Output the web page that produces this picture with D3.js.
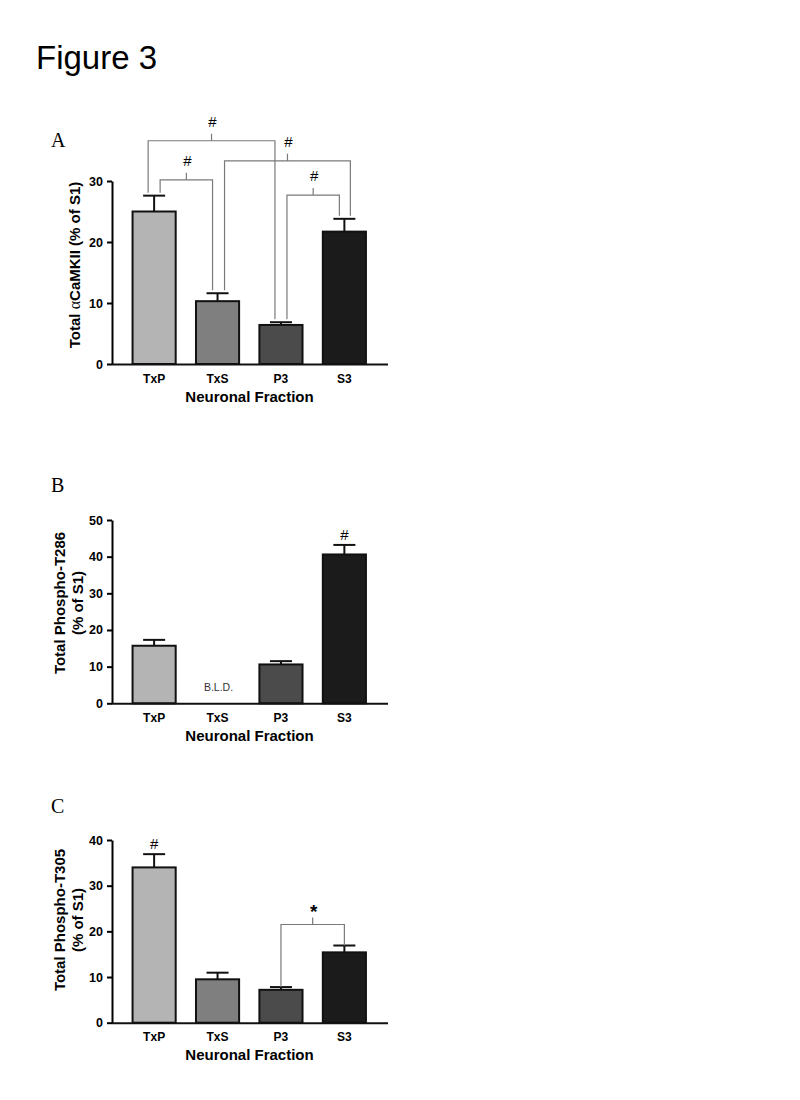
<!DOCTYPE html>
<html>
<head>
<meta charset="utf-8">
<script src="https://cdn.jsdelivr.net/npm/d3@7"></script>
<style>
  body { margin: 0; background: #fff; }
  svg { display: block; }
</style>
</head>
<body>
<script>
// categories and colours
var fractions = ["TxP", "TxS", "P3", "S3"];
var barColors = ["#b4b4b4", "#7f7f7f", "#4b4b4b", "#1b1b1b"];

// A - total alpha CaMKII
var totalMean = [25.0, 10.3, 6.4, 21.7];
var totalErr  = [2.6, 1.3, 0.45, 2.1];
var totalTicks = [0, 10, 20, 30];
var totalPairs  = [["TxP", "P3"], ["TxP", "TxS"], ["TxS", "S3"], ["P3", "S3"]];
var totalLevels = [36.6, 30.2, 33.3, 27.7];
var totalMarks  = ["#", "#", "#", "#"];

// B - phospho T286 (TxS below limit of detection)
var t286Mean = [15.7, 0, 10.6, 40.6];
var t286Err  = [1.6, 0, 0.9, 2.6];
var t286Ticks = [0, 10, 20, 30, 40, 50];
var t286Marks = ["", "", "", "#"];

// C - phospho T305
var t305Mean = [34.0, 9.5, 7.2, 15.4];
var t305Err  = [2.9, 1.45, 0.6, 1.5];
var t305Ticks = [0, 10, 20, 30, 40];
var t305Marks = ["#", "", "", ""];
var t305Pairs  = [["P3", "S3"]];
var t305Levels = [21.5];
var t305PairMarks = ["*"];

var W = 800, H = 1100;
var svg = d3.select("body").append("svg")
  .attr("width", W)
  .attr("height", H)
  .style("font-family", "'Liberation Sans', Arial, sans-serif");

svg.append("text")
  .attr("x", 36)
  .attr("y", 69)
  .style("font-size", "33px")
  .text("Figure 3");

var x = d3.scaleBand()
  .domain(fractions)
  .range([111, 387.5])
  .paddingInner(0.32)
  .paddingOuter(0.34);

var color = d3.scaleOrdinal().domain(fractions).range(barColors);

function drawPanel(p) {
  var y = d3.scaleLinear().domain([0, d3.max(p.ticks)]).range([p.y0, p.y1]);
  var g = svg.append("g");

  // panel letter
  g.append("text")
    .attr("x", 51)
    .attr("y", p.letterY)
    .style("font-family", "'Liberation Serif', 'Times New Roman', serif")
    .style("font-size", "20px")
    .text(p.letter);

  // bars
  g.selectAll("rect.bar")
    .data(p.mean)
    .enter()
    .append("rect")
    .attr("class", "bar")
    .attr("x", (d, i) => x(fractions[i]))
    .attr("y", d => y(d))
    .attr("width", x.bandwidth())
    .attr("height", d => y(0) - y(d))
    .attr("fill", (d, i) => color(fractions[i]))
    .attr("stroke", "#111")
    .attr("stroke-width", 2)
    .style("display", d => d > 0 ? null : "none");

  // error bars (upper only)
  var eb = g.selectAll("g.err")
    .data(p.mean)
    .enter()
    .append("g")
    .attr("class", "err")
    .style("display", (d, i) => p.err[i] > 0 ? null : "none");
  eb.append("line")
    .attr("x1", (d, i) => x(fractions[i]) + x.bandwidth() / 2)
    .attr("x2", (d, i) => x(fractions[i]) + x.bandwidth() / 2)
    .attr("y1", d => y(d))
    .attr("y2", (d, i) => y(d + p.err[i]))
    .attr("stroke", "#111")
    .attr("stroke-width", 2);
  eb.append("line")
    .attr("x1", (d, i) => x(fractions[i]) + x.bandwidth() / 2 - 11)
    .attr("x2", (d, i) => x(fractions[i]) + x.bandwidth() / 2 + 11)
    .attr("y1", (d, i) => y(d + p.err[i]))
    .attr("y2", (d, i) => y(d + p.err[i]))
    .attr("stroke", "#111")
    .attr("stroke-width", 2);

  // marks above single bars
  g.selectAll("text.mark")
    .data(p.marks)
    .enter()
    .append("text")
    .attr("class", "mark")
    .attr("x", (d, i) => x(fractions[i]) + x.bandwidth() / 2)
    .attr("y", (d, i) => y(p.mean[i] + p.err[i]) - 5)
    .attr("text-anchor", "middle")
    .style("font-size", "15px")
    .text(d => d);

  // y axis
  var ya = g.append("g")
    .attr("transform", "translate(" + p.axisX + ",0)")
    .call(d3.axisLeft(y).tickValues(p.ticks).tickSize(5).tickSizeOuter(0).tickPadding(4));
  ya.select(".domain").attr("stroke-width", 2);
  ya.selectAll(".tick line").attr("stroke-width", 2);
  ya.selectAll(".tick text")
    .attr("font-family", "'Liberation Sans', Arial, sans-serif")
    .attr("font-size", "12.5px")
    .attr("font-weight", "bold");

  // x axis
  var xa = g.append("g")
    .attr("transform", "translate(0," + p.y0 + ")")
    .call(d3.axisBottom(x).tickSize(0).tickPadding(10));
  xa.select(".domain").remove();
  xa.selectAll(".tick text")
    .attr("font-family", "'Liberation Sans', Arial, sans-serif")
    .attr("font-size", "12px")
    .attr("font-weight", "bold");
  g.append("line")
    .attr("x1", p.axisX)
    .attr("x2", 388)
    .attr("y1", y(0) + 0.5)
    .attr("y2", y(0) + 0.5)
    .attr("stroke", "#111")
    .attr("stroke-width", 2);

  g.append("text")
    .attr("x", 249.5)
    .attr("y", p.y0 + 37.5)
    .attr("text-anchor", "middle")
    .style("font-size", "15px")
    .style("font-weight", "bold")
    .text("Neuronal Fraction");

  // y label
  p.ylab(g);

  // brackets
  (p.pairs || []).forEach(function (pair, k) {
    var ia = fractions.indexOf(pair[0]), ib = fractions.indexOf(pair[1]);
    var xa1 = x(pair[0]) + x.bandwidth() / 2 + p.nudge[k][0];
    var xb1 = x(pair[1]) + x.bandwidth() / 2 + p.nudge[k][1];
    var ly = y(p.levels[k]);
    var ya1 = y(p.mean[ia] + p.err[ia]) - p.gap;
    var yb1 = y(p.mean[ib] + p.err[ib]) - p.gap;
    var path = d3.path();
    path.moveTo(xa1, ya1);
    path.lineTo(xa1, ly);
    path.lineTo(xb1, ly);
    path.lineTo(xb1, yb1);
    var mid = (xa1 + xb1) / 2;
    path.moveTo(mid, ly);
    path.lineTo(mid, ly - 7);
    g.append("path")
      .attr("d", path.toString())
      .attr("fill", "none")
      .attr("stroke", "#7a7a7a")
      .attr("stroke-width", 1.2);
    var star = p.pairMarks[k] === "*";
    g.append("text")
      .attr("x", mid + 1)
      .attr("y", star ? ly - 6 : ly - 14)
      .attr("text-anchor", "middle")
      .style("font-size", star ? "19px" : "15px")
      .style("font-weight", star ? "bold" : "normal")
      .text(p.pairMarks[k]);
  });

  return y;
}

// Panel A
drawPanel({
  letter: "A", letterY: 147,
  y0: 364, y1: 181, axisX: 112,
  mean: totalMean, err: totalErr, ticks: totalTicks,
  marks: ["", "", "", ""],
  pairs: totalPairs, levels: totalLevels, pairMarks: totalMarks,
  nudge: [[-6, -6], [6, -5], [7, 6], [6, -5]], gap: 3,
  ylab: function (g) {
    var t = g.append("text")
      .attr("transform", "translate(79.5,265) rotate(-90)")
      .attr("text-anchor", "middle")
      .style("font-size", "15px")
      .style("font-weight", "bold");
    t.append("tspan").text("Total ");
    t.append("tspan")
      .style("font-family", "'Liberation Serif', 'Times New Roman', serif")
      .style("font-weight", "normal")
      .style("font-size", "16px")
      .text("\u03B1");
    t.append("tspan").text("CaMKII (% of S1)");
  }
});

// Panel B
var yB = drawPanel({
  letter: "B", letterY: 492,
  y0: 703.3, y1: 520, axisX: 112,
  mean: t286Mean, err: t286Err, ticks: t286Ticks,
  marks: t286Marks,
  ylab: function (g) {
    var t = g.append("text")
      .attr("transform", "translate(0,603) rotate(-90)")
      .attr("text-anchor", "middle")
      .style("font-size", "15px")
      .style("font-weight", "bold");
    t.append("tspan").attr("x", 0).attr("y", 64.5).text("Total Phospho-T286");
    t.append("tspan").attr("x", 0).attr("y", 83).text("(% of S1)");
  }
});

// below limit of detection label for TxS
svg.append("text")
  .attr("x", x("TxS") + x.bandwidth() / 2 + 1)
  .attr("y", yB(0) - 12)
  .attr("text-anchor", "middle")
  .style("font-size", "10.5px")
  .style("fill", "#333")
  .text("B.L.D.");

// Panel C
drawPanel({
  letter: "C", letterY: 813,
  y0: 1022.7, y1: 840, axisX: 112,
  mean: t305Mean, err: t305Err, ticks: t305Ticks,
  marks: t305Marks,
  pairs: t305Pairs, levels: t305Levels, pairMarks: t305PairMarks,
  nudge: [[0, 0]], gap: 0,
  ylab: function (g) {
    var t = g.append("text")
      .attr("transform", "translate(0,920) rotate(-90)")
      .attr("text-anchor", "middle")
      .style("font-size", "15px")
      .style("font-weight", "bold");
    t.append("tspan").attr("x", 0).attr("y", 64.5).text("Total Phospho-T305");
    t.append("tspan").attr("x", 0).attr("y", 83).text("(% of S1)");
  }
});
</script>
</body>
</html>
